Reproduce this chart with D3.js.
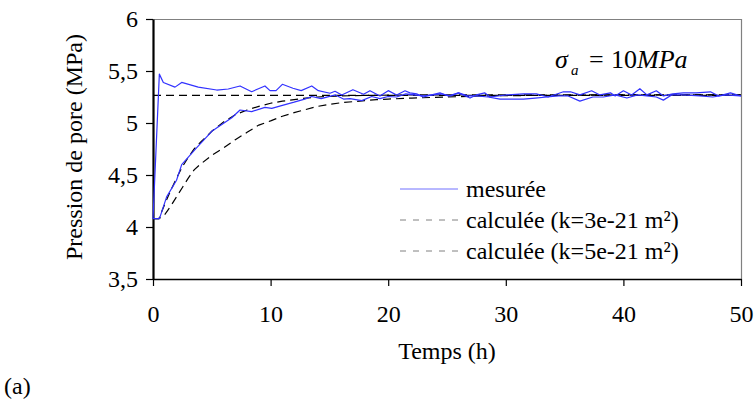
<!DOCTYPE html>
<html>
<head>
<meta charset="utf-8">
<script src="https://cdn.jsdelivr.net/npm/d3@7"></script>
<style>
  html, body { margin: 0; padding: 0; background: #fff; }
  svg { display: block; }
</style>
</head>
<body>
<svg id="chart" width="756" height="412"></svg>
<script>
// ---- Data (time in h, pressure in MPa) ----
const measuredUpstream = [
  [0,4.08],[0.54,5.47],[0.88,5.39],[1.87,5.345],[2.44,5.39],[3.85,5.345],[5.42,5.317],[6.4,5.327],
  [7.4,5.356],[8.39,5.301],[9.52,5.356],[9.95,5.311],[10.46,5.311],[11.0,5.372],[11.9,5.334],
  [12.6,5.311],[13.5,5.356],[14.06,5.311],[15.05,5.286],[15.48,5.305],[16.05,5.269],[17.0,5.32],
  [17.9,5.276],[18.45,5.311],[19.3,5.26],[20.0,5.311],[20.72,5.27],[21.43,5.31],[21.85,5.29],
  [22.42,5.28],[22.98,5.25],[23.7,5.27],[24.4,5.29],[25.1,5.26],[25.96,5.29],[26.96,5.24],
  [27.5,5.27],[28.2,5.29],[28.66,5.25],[30.1,5.27],[31.5,5.28],[32.6,5.28],[33.6,5.25],[34.9,5.30],
  [35.5,5.30],[36.3,5.27],[37.3,5.31],[38.0,5.27],[38.9,5.29],[39.3,5.26],[40.0,5.31],[40.7,5.27],
  [41.4,5.33],[42.0,5.27],[42.8,5.31],[43.4,5.26],[44.2,5.28],[45.1,5.29],[46.2,5.29],[47.4,5.30],
  [48.1,5.26],[49.1,5.29],[50,5.26]
];
const measuredDownstream = [
  [0,4.08],[0.55,4.08],[1.16,4.29],[2.0,4.45],[2.44,4.60],[3.7,4.76],[5.0,4.92],[6.7,5.05],
  [7.4,5.125],[8.39,5.11],[9.52,5.15],[10.1,5.14],[11.0,5.17],[12.0,5.20],[12.9,5.23],[13.5,5.255],
  [14.3,5.235],[15.5,5.27],[16.2,5.23],[16.75,5.235],[17.75,5.215],[18.6,5.255],[19.3,5.235],
  [20.0,5.255],[20.7,5.25],[21.5,5.28],[22.2,5.27],[23.0,5.26],[23.8,5.27],[24.5,5.28],[25.3,5.26],
  [26.0,5.29],[26.8,5.26],[27.5,5.26],[28.5,5.25],[29.5,5.23],[30.5,5.23],[31.5,5.23],[32.5,5.24],
  [33.5,5.25],[34.5,5.26],[35.3,5.26],[36.3,5.21],[37.4,5.25],[38.3,5.25],[39.3,5.27],[40.3,5.24],
  [41.2,5.27],[42.0,5.26],[42.8,5.25],[43.4,5.22],[44.1,5.27],[45.1,5.27],[46.5,5.26],[47.6,5.25],
  [48.7,5.27],[49.9,5.26],[50,5.26]
];
const calcUpstream = [[0,5.265],[50,5.265]];
const calcK5 = [
  [0,4.08],[0.5,4.08],[1,4.22],[1.5,4.35],[2,4.47],[2.5,4.58],[3,4.67],[3.5,4.75],[4,4.81],
  [5,4.92],[6,5.01],[7,5.08],[8,5.125],[9,5.16],[10,5.19],[11,5.21],[12,5.225],[13,5.24],
  [14,5.25],[16,5.26],[18,5.265],[22,5.27],[50,5.27]
];
const calcK3 = [
  [0,4.08],[0.5,4.08],[1,4.12],[1.5,4.20],[2,4.29],[2.5,4.38],[3,4.47],[3.5,4.55],[4,4.60],
  [5,4.69],[6,4.76],[7,4.84],[8,4.91],[9,4.98],[10,5.02],[11,5.065],[12,5.10],[13,5.13],
  [14,5.16],[15,5.18],[16,5.195],[17,5.205],[18,5.215],[19,5.225],[20,5.23],[22,5.24],
  [25,5.25],[28,5.26],[32,5.265],[40,5.27],[50,5.27]
];
const xTicks = [0,10,20,30,40,50];
const yTicks = [3.5,4,4.5,5,5.5,6];
const legendLabels = ["mesurée", "calculée (k=3e-21 m²)", "calculée (k=5e-21 m²)"];
const xTitle = "Temps (h)";
const yTitle = "Pression de pore (MPa)";
const panelLabel = "(a)";

// ---- Layout ----
const FONT = "'Liberation Serif', 'Times New Roman', 'DejaVu Serif', serif";
const svg = d3.select("#chart").attr("font-family", FONT);
const L = 153, R = 741, T = 19, B = 279;
const x = d3.scaleLinear().domain([0,50]).range([L,R]);
const y = d3.scaleLinear().domain([3.5,6]).range([B,T]);
const FS = 24;

// frame (top/right gray)
svg.append("line").attr("x1",L).attr("x2",R).attr("y1",T+0.5).attr("y2",T+0.5)
  .attr("stroke","#808080").attr("stroke-width",1.2);
svg.append("line").attr("x1",R+0.5).attr("x2",R+0.5).attr("y1",T).attr("y2",B)
  .attr("stroke","#808080").attr("stroke-width",1.2);

// axes
const fmt = d => String(d).replace(".", ",");
const yAxis = svg.append("g").attr("transform",`translate(${L},0)`)
  .call(d3.axisLeft(y).tickValues(yTicks).tickFormat(fmt).tickSize(7).tickSizeOuter(0).tickPadding(8));
const xAxis = svg.append("g").attr("transform",`translate(0,${B})`)
  .call(d3.axisBottom(x).tickValues(xTicks).tickFormat(fmt).tickSize(7).tickSizeOuter(0).tickPadding(19));
[yAxis, xAxis].forEach(g => {
  g.attr("font-family", FONT).attr("font-size", FS);
  g.selectAll("text").attr("font-family", FONT).attr("font-size", FS).attr("fill","#000");
  g.selectAll("line").attr("stroke","#000").attr("stroke-width",1.2);
});
yAxis.select(".domain").attr("stroke","#000").attr("stroke-width",2.2);
xAxis.select(".domain").attr("stroke","#000").attr("stroke-width",1.6);

// lines
const line = d3.line().x(d => x(d[0])).y(d => y(d[1]));
const dashed = [calcUpstream, calcK3, calcK5];
dashed.forEach(data => {
  svg.append("path").datum(data).attr("d", line).attr("fill","none")
    .attr("stroke","#000").attr("stroke-width",1.2).attr("stroke-dasharray","8,5");
});
[measuredDownstream, measuredUpstream].forEach(data => {
  svg.append("path").datum(data).attr("d", line).attr("fill","none")
    .attr("stroke","#3232ff").attr("stroke-width",1.2).attr("stroke-linejoin","round");
});

// annotation sigma_a = 10MPa
const ann = svg.append("text").attr("y",68).attr("font-family",FONT).attr("font-size",26);
ann.append("tspan").attr("x",555).attr("font-style","italic").text("σ");
ann.append("tspan").attr("x",571).attr("y",75).attr("font-style","italic").attr("font-size",15).text("a");
ann.append("tspan").attr("x",589).attr("y",68).text("=");
ann.append("tspan").attr("x",611).attr("y",68).text("10");
ann.append("tspan").attr("font-style","italic").text("MPa");

// legend
const legY = [189, 220, 251];
const lg = svg.append("g");
legendLabels.forEach((lab, i) => {
  const ly = legY[i];
  lg.append("line").attr("x1",400).attr("x2",458).attr("y1",ly).attr("y2",ly)
    .attr("stroke", i === 0 ? "#7070ff" : "#808080").attr("stroke-width",1)
    .attr("stroke-dasharray", i === 0 ? null : "6,7");
  lg.append("text").attr("x",466).attr("y",ly).attr("dy","0.33em")
    .attr("font-family",FONT).attr("font-size",FS).text(lab);
});

// titles
svg.append("text").attr("x",(L+R)/2).attr("y",359).attr("text-anchor","middle")
  .attr("font-family",FONT).attr("font-size",FS).text(xTitle);
svg.append("text").attr("transform","translate(82,147) rotate(-90)").attr("text-anchor","middle")
  .attr("font-family",FONT).attr("font-size",FS).text(yTitle);
svg.append("text").attr("x",4).attr("y",394).attr("font-family",FONT).attr("font-size",FS).text(panelLabel);
</script>
</body>
</html>
